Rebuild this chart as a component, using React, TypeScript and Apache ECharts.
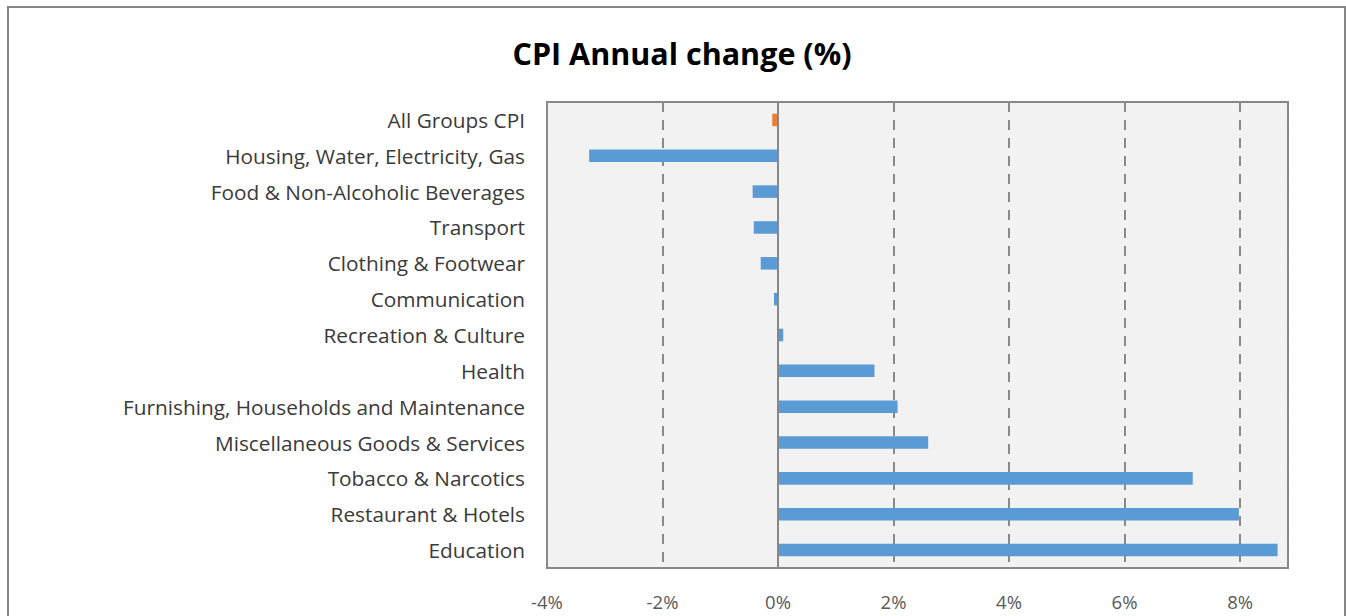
import React, { useEffect, useRef } from "react";
import * as echarts from "echarts";

const categories = [
  "All Groups CPI",
  "Housing, Water, Electricity, Gas",
  "Food & Non-Alcoholic Beverages",
  "Transport",
  "Clothing & Footwear",
  "Communication",
  "Recreation & Culture",
  "Health",
  "Furnishing, Households and Maintenance",
  "Miscellaneous Goods & Services",
  "Tobacco & Narcotics",
  "Restaurant & Hotels",
  "Education",
];

const values = [-0.1, -3.27, -0.44, -0.42, -0.3, -0.07, 0.09, 1.67, 2.07, 2.6, 7.18, 7.98, 8.65];

const xTicks = [-4, -2, 0, 2, 4, 6, 8];

export default function App() {
  const ref = useRef<HTMLDivElement>(null);
  useEffect(() => {
    if (!ref.current) return;
    const chart = echarts.init(ref.current, undefined, { renderer: "svg" });
    const font = "'Open Sans', Lato, sans-serif";
    chart.setOption({
      animation: false,
      backgroundColor: "#ffffff",
      title: {
        text: "CPI Annual change (%)",
        left: 677,
        textAlign: "center",
        top: 32,
        textStyle: { fontFamily: font, fontWeight: "bold", fontSize: 30.5, color: "#000000" },
      },
      graphic: [
        {
          type: "rect",
          shape: { x: 8, y: 7, width: 1337, height: 700 },
          style: { fill: "none", stroke: "#868686", lineWidth: 2 },
          silent: true,
        },
      ],
      grid: {
        left: 547,
        right: 58,
        top: 102,
        bottom: 48,
        show: true,
        backgroundColor: "#F2F2F2",
        borderColor: "#888888",
        borderWidth: 2,
      },
      xAxis: {
        type: "value",
        min: -4,
        max: 8.83,
        interval: 2,
        axisLine: { show: false },
        axisTick: { show: false },
        axisLabel: {
          margin: 24,
          fontFamily: font,
          fontSize: 18.5,
          color: "#595959",
          showMaxLabel: false,
          formatter: (v: number) => (xTicks.includes(Math.round(v * 100) / 100) ? `${v}%` : ""),
        },
        splitLine: {
          show: true,
          lineStyle: { color: "#8a8a8a", width: 2, type: [10, 8] },
        },
      },
      yAxis: {
        type: "category",
        data: categories,
        inverse: true,
        axisLine: { show: false },
        axisTick: { show: false },
        axisLabel: { margin: 22, fontFamily: font, fontSize: 20.8, color: "#3a3a3a" },
        splitLine: { show: false },
      },
      series: [
        {
          type: "bar",
          barWidth: "35%",
          data: values.map((v, i) => ({
            value: v,
            itemStyle: { color: i === 0 ? "#ED7D31" : "#5B9BD5" },
          })),
          markLine: {
            silent: true,
            symbol: "none",
            label: { show: false },
            lineStyle: { color: "#888888", width: 2, type: "solid" },
            data: [{ xAxis: 0 }],
          },
        },
      ],
    });
    return () => chart.dispose();
  }, []);
  return (
    <div
      ref={ref}
      style={{ position: "fixed", left: 0, top: 0, width: 1346, height: 616 }}
    />
  );
}
